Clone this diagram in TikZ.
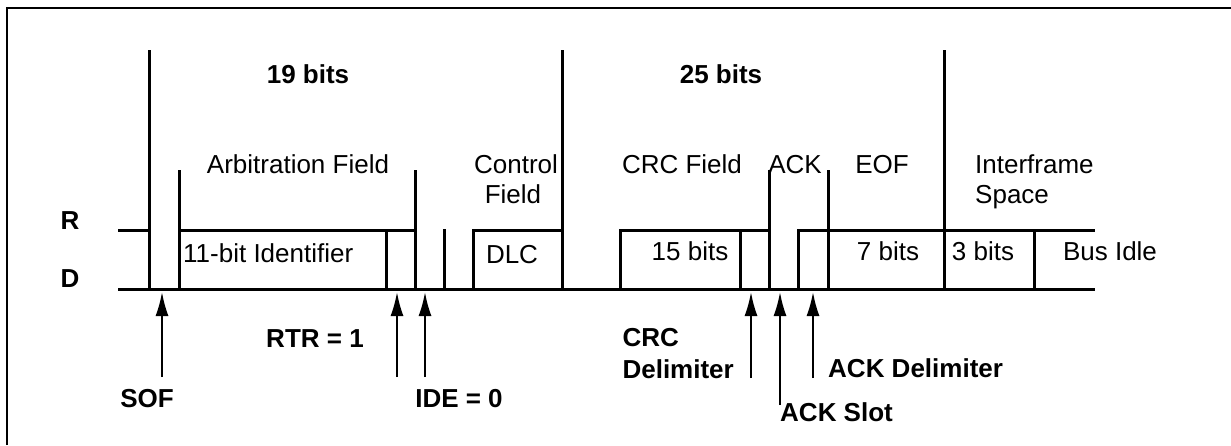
\documentclass[tikz,border=0pt]{standalone}
\usepackage{fontspec}
\setmainfont{Liberation Sans}
\usetikzlibrary{arrows.meta}
\tikzset{
  frameline/.style={line width=2pt,draw=black},
  busline/.style={line width=3pt,draw=black,line cap=rect},
  fieldtext/.style={inner sep=0pt,anchor=base,font=\fontsize{26}{30}\selectfont},
  boldtext/.style={inner sep=0pt,anchor=base,font=\fontsize{26}{30}\selectfont\bfseries},
  markarrow/.style={-{Latex[length=24pt,width=13pt]},line width=2pt,draw=black}
}

\begin{document}
\begin{tikzpicture}[x=1pt,y=-1pt]
  \useasboundingbox (0,0) rectangle (1231,445);
  \draw[frameline] (7,445) -- (7,8) -- (1231,8);

  % bus levels
  \draw[busline] (119,289) -- (1093,289);
  \draw[busline] (119,230) -- (149,230);
  \draw[busline] (179,230) -- (415,230);
  \draw[busline] (473,230) -- (562,230);
  \draw[busline] (620,230) -- (769,230);
  \draw[busline] (798,230) -- (1093,230);

  % field borders
  \draw[busline] (149,51) -- (149,289);
  \draw[busline] (179,171) -- (179,289);
  \draw[busline] (386,230) -- (386,289);
  \draw[busline] (415,171) -- (415,289);
  \draw[busline] (444,230) -- (444,289);
  \draw[busline] (473,230) -- (473,289);
  \draw[busline] (562,51) -- (562,289);
  \draw[busline] (620,230) -- (620,289);
  \draw[busline] (740,230) -- (740,289);
  \draw[busline] (769,171) -- (769,289);
  \draw[busline] (798,230) -- (798,289);
  \draw[busline] (828,171) -- (828,289);
  \draw[busline] (944,51) -- (944,289);
  \draw[busline] (1034,230) -- (1034,289);

  \node[boldtext] (rlev) at (70,229) {R};
  \node[boldtext] (dlev) at (70,287) {D};

  \node[boldtext] (nineteen) at (308,83) {19 bits};
  \node[boldtext] (twentyfive) at (721,83) {25 bits};

  \node[fieldtext] (arb) at (298,173) {Arbitration Field};
  \node[fieldtext] (ctrl) at (516,173) {Control};
  \node[fieldtext] (ctrlb) at (513,203) {Field};
  \node[fieldtext] (crc) at (682,173) {CRC Field};
  \node[fieldtext] (ack) at (795,173) {ACK};
  \node[fieldtext] (eof) at (882,173) {EOF};
  \node[fieldtext,anchor=base west] (ifs) at (975,173) {Interframe};
  \node[fieldtext,anchor=base west] (ifsb) at (975,203) {Space};

  \node[fieldtext,anchor=base west] (ident) at (183,262) {11-bit Identifier};
  \node[fieldtext] (dlc) at (512,263) {DLC};
  \node[fieldtext] (crcbits) at (690,260) {15 bits};
  \node[fieldtext] (eofbits) at (888,260) {7 bits};
  \node[fieldtext] (ifsbits) at (983,260) {3 bits};
  \node[fieldtext] (idle) at (1110,260) {Bus Idle};

  \node[boldtext] (sof) at (147,407) {SOF};
  \node[boldtext] (rtr) at (315,347) {RTR = 1};
  \node[boldtext] (ide) at (459,407) {IDE = 0};
  \node[boldtext,anchor=base east] (crcdelb) at (734,378) {Delimiter};
  \node[boldtext,anchor=base west,yshift=32pt] (crcdel) at (crcdelb.base west) {CRC};
  \node[boldtext,anchor=base west] (ackslot) at (780,421) {ACK Slot};
  \node[boldtext,anchor=base west] (ackdel) at (828,377) {ACK Delimiter};

  \coordinate (softail) at (162,377);   \coordinate (sofbus) at (162,292);
  \coordinate (rtrtail) at (397,377);   \coordinate (rtrbus) at (397,292);
  \coordinate (idetail) at (425,377);   \coordinate (idebus) at (425,292);
  \coordinate (crctail) at (751,378);   \coordinate (crcbus) at (751,292);
  \coordinate (slottail) at (780,405);  \coordinate (slotbus) at (780,292);
  \coordinate (deltail) at (813,378);   \coordinate (delbus) at (813,292);

  \draw[markarrow] (softail) -- (sofbus);
  \draw[markarrow] (rtrtail) -- (rtrbus);
  \draw[markarrow] (idetail) -- (idebus);
  \draw[markarrow] (crctail) -- (crcbus);
  \draw[markarrow] (slottail) -- (slotbus);
  \draw[markarrow] (deltail) -- (delbus);
\end{tikzpicture}
\end{document}
